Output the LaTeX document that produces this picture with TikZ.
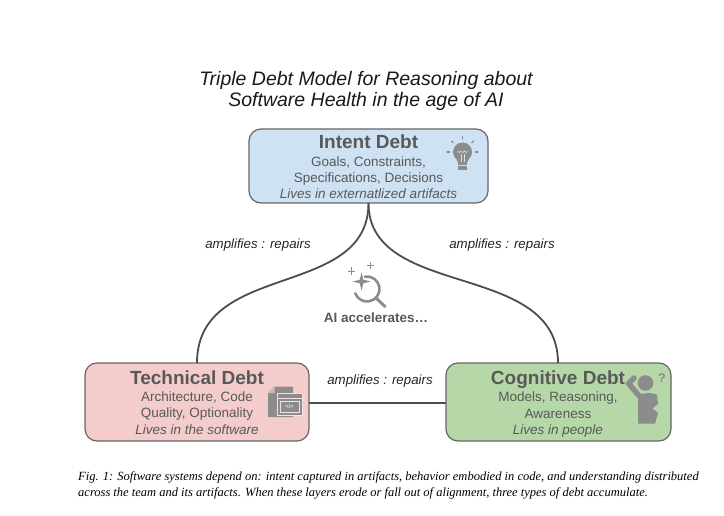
\documentclass[tikz,border=0pt]{standalone}
\usepackage{fontspec}
\setmainfont{Liberation Sans}
\newfontfamily\capfont{Liberation Serif}
\usetikzlibrary{calc}
\definecolor{txtgray}{HTML}{595959}
\definecolor{bordergray}{HTML}{666666}
\definecolor{linegray}{HTML}{4d4d4d}
\definecolor{icongray}{HTML}{8c8c8c}
\definecolor{intentfill}{HTML}{CFE2F3}
\definecolor{techfill}{HTML}{F4CCCC}
\definecolor{cogfill}{HTML}{B6D7A8}
\tikzset{
  debtbox/.style={draw=bordergray, line width=1.2pt, rounded corners=12pt},
  boxtitle/.style={anchor=base, text=txtgray, font=\fontsize{19}{21}\selectfont\bfseries, inner sep=0pt},
  boxline/.style={anchor=base, text=txtgray, font=\fontsize{13.5}{16}\selectfont, inner sep=0pt},
  boxital/.style={anchor=base, text=txtgray, font=\fontsize{13.5}{16}\selectfont\itshape, inner sep=0pt},
  edgelabel/.style={anchor=base, text=black!85, font=\fontsize{13.3}{16}\selectfont\itshape, inner sep=0pt},
  connector/.style={draw=linegray, line width=1.8pt},
}
\begin{document}
\begin{tikzpicture}[x=1pt,y=-1pt]
\useasboundingbox (0,0) rectangle (724,516);
\fill[white] (0,0) rectangle (724,516);

% Title
\node[anchor=base, inner sep=0pt, text=black!90, font=\fontsize{19.5}{21}\selectfont\itshape] (t1) at (366,86) {Triple Debt Model for Reasoning about};
\node[anchor=base, inner sep=0pt, text=black!90, font=\fontsize{19.5}{21}\selectfont\itshape] (t2) at (366,107) {Software Health in the age of AI};

% Boxes
\path[debtbox, fill=intentfill] (249,129) rectangle (488,203);
\coordinate (intentB) at (368.5,203);
\path[debtbox, fill=techfill] (85,363) rectangle (309,441);
\coordinate (techT) at (197,363);
\coordinate (techR) at (309,403);
\path[debtbox, fill=cogfill] (446,363) rectangle (671,441);
\coordinate (cogT) at (558,363);
\coordinate (cogL) at (446,403);

% Connectors
\draw[connector] (intentB) .. controls (368.5,300) and (197,260) .. (techT);
\draw[connector] (intentB) .. controls (368.5,300) and (558,260) .. (cogT);
\draw[connector] (techR) -- (cogL);

% Edge labels
\node[edgelabel] (l1) at (258,249) {amplifies : repairs};
\node[edgelabel] (l2) at (502,249) {amplifies : repairs};
\node[edgelabel] (l3) at (380,384) {amplifies : repairs};

% Intent text
\node[boxtitle] (it) at (368.5,148.5) {Intent Debt};
\node[boxline] (i1) at (368.5,166.5) {Goals, Constraints,};
\node[boxline] (i2) at (368.5,183) {Specifications, Decisions};
\node[boxital] (i3) at (368.5,199) {Lives in externatlized artifacts};

% Technical text
\node[boxtitle] (tt) at (197,384.5) {Technical Debt};
\node[boxline] (ta) at (197,401.5) {Architecture, Code};
\node[boxline] (tb) at (197,417.5) {Quality, Optionality};
\node[boxital] (tc) at (197,434) {Lives in the software};

% Cognitive text
\node[boxtitle] (ct) at (558,384.5) {Cognitive Debt};
\node[boxline] (ca) at (558,401.5) {Models, Reasoning,};
\node[boxline] (cb) at (558,418) {Awareness};
\node[boxital] (cc) at (558,434) {Lives in people};

% AI accelerates
\node[anchor=base, inner sep=0pt, text=txtgray, font=\fontsize{13.5}{16}\selectfont\bfseries] (ai) at (376,323) {AI accelerates\dots};

% AI icon: sparkles + magnifier
\begin{scope}[icongray]
  \draw[line width=2.6pt, line cap=round] (367,289) ++(-100:12.5) arc[start angle=-100, end angle=160, radius=12.5];
  \draw[line width=3pt, line cap=round] (376,298) -- (385,306.5);
  \fill (361.5,272.5) -- (363.3,279.7) -- (370.5,281.5) -- (363.3,283.3) -- (361.5,290.5)
        -- (359.7,283.3) -- (352.5,281.5) -- (359.7,279.7) -- cycle;
  \draw[line width=1pt] (351.7,267.5) -- (351.7,275) (348,271.3) -- (355.4,271.3);
  \draw[line width=1pt] (370.7,262) -- (370.7,268.6) (367.4,265.3) -- (374,265.3);
\end{scope}

% Bulb icon
\begin{scope}
  \fill[icongray] (462.5,152) circle[radius=9.5];
  \fill[icongray] (455.5,156) -- (469.5,156) -- (467.5,162) -- (457.5,162) -- cycle;
  \fill[icongray] (458,162) rectangle (467,170.5);
  \draw[intentfill, line width=0.6pt] (457.5,151) -- (459.3,152.6) -- (461,151) -- (462.7,152.6) -- (464.4,151) -- (466.1,152.6) -- (467.8,151);
  \draw[intentfill, line width=0.8pt] (461,154) -- (461,162) (464,154) -- (464,162);
  \draw[intentfill, line width=0.6pt] (458,165.5) -- (467,165.5);
  \foreach \a in {0,45,90,135,180} {
    \draw[icongray, line width=1.2pt, line cap=round] (462.5,152) ++(-\a:13) -- ++(-\a:2.5);
  }
\end{scope}

% Code document icon
\begin{scope}
  \fill[icongray] (268,393) -- (274.5,386.5) -- (293,386.5) -- (293,417) -- (268,417) -- cycle;
  \fill[techfill!70!icongray] (268,393) -- (274.5,393) -- (274.5,386.5) -- cycle;
  \filldraw[fill=icongray, draw=techfill!60!white, line width=1pt] (277,393) rectangle (302.5,415);
  \draw[techfill!60!white, line width=0.8pt] (277,398) -- (302.5,398);
  \draw[techfill!60!white, line width=0.7pt] (280.5,401) rectangle (299,412);
  \node[inner sep=0pt, text=techfill!60!white, font=\fontsize{5.5}{6}\selectfont\bfseries] (codetxt) at (289.7,406.5) {</>};
\end{scope}

% Person with question mark icon
\begin{scope}
  \fill[icongray] (645.5,383) circle[radius=7.8];
  \fill[icongray] (638,396) .. controls (639,393) and (654,392) .. (657,395)
     -- (658,404) -- (652.5,408.5) -- (658,413) -- (655,423.5) -- (638,423.5) -- cycle;
  \draw[icongray, line width=5.5pt, line join=round, line cap=round] (641,398) -- (628.5,383.5) -- (634,378);
  \node[anchor=base, inner sep=0pt, text=icongray, font=\fontsize{12.5}{14}\selectfont\bfseries] (qm) at (662,382.5) {?};
\end{scope}

% Caption
\node[anchor=base west, inner sep=0pt, text=black, font=\capfont\fontsize{12.5}{14}\selectfont\itshape] (cap1) at (78,480) {Fig. 1: Software systems depend on: intent captured in artifacts, behavior embodied in code, and understanding distributed};
\node[anchor=base west, inner sep=0pt, text=black, font=\capfont\fontsize{12.5}{14}\selectfont\itshape] (cap2) at (78,496.5) {across the team and its artifacts. When these layers erode or fall out of alignment, three types of debt accumulate.};
\end{tikzpicture}
\end{document}
